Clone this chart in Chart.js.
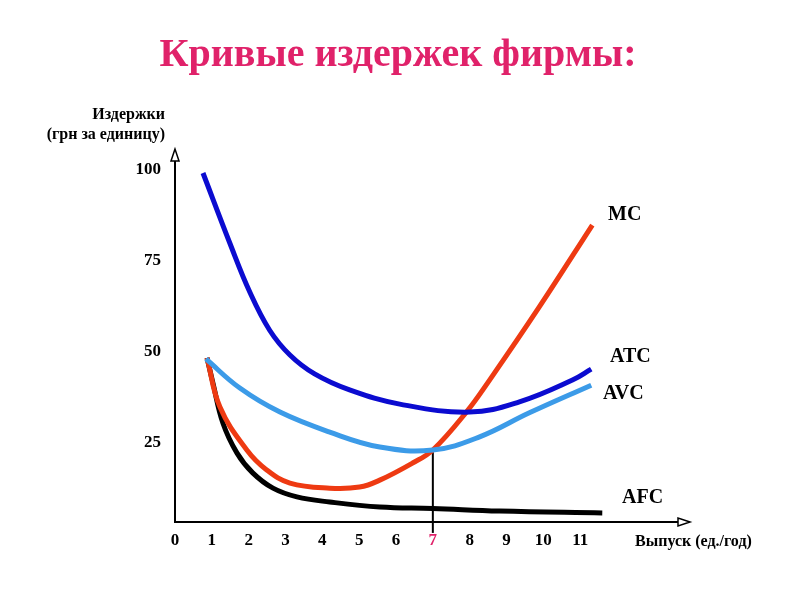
<!DOCTYPE html>
<html>
<head>
<meta charset="utf-8">
<script src="https://cdn.jsdelivr.net/npm/chart.js@4.4.0/dist/chart.umd.min.js"></script>
<style>
    html, body { margin: 0; padding: 0; background: #fff; }
</style>
</head>
<body>
<canvas id="cost-chart" width="800" height="600"></canvas>
<script>
// Data: output on x, cost per unit on y

var xTicks = [0, 1, 2, 3, 4, 5, 6, 7, 8, 9, 10, 11]
var yTicks = [25, 50, 75, 100]

var atcX = [0.76, 1.49, 2.03, 2.57, 3.12, 3.79, 4.74, 6.10, 8.0, 9.35, 10.79, 11.3]
var atcY = [99.2, 79.9, 66.5, 56.0, 49.2, 44.0, 39.6, 35.7, 33.5, 36.3, 42.3, 45.3]

var avcX = [0.84, 1.76, 2.85, 4.2, 5.56, 7.0, 8.27, 9.62, 11.3]
var avcY = [48.1, 40.1, 33.5, 28.0, 23.9, 23.1, 26.7, 33.3, 40.9]

var mcX = [0.87, 1.22, 1.95, 2.49, 3.12, 4.2, 5.01, 5.56, 6.45, 7.0, 7.91, 8.54, 9.89, 11.33]
var mcY = [48.4, 34.9, 23.1, 17.6, 14.0, 12.6, 12.9, 14.8, 19.5, 23.1, 33.5, 42.3, 62.4, 84.9]

var afcX = [0.87, 1.03, 1.3, 1.68, 2.11, 2.66, 3.31, 4.2, 5.56, 7.0, 8.81, 11.6]
var afcY = [48.4, 41.5, 30.5, 22.3, 16.8, 12.6, 10.2, 8.8, 7.4, 7.0, 6.3, 5.8]

// where MC crosses AVC
var dropX = 7
var dropY = 23.1

var pink = '#e0226a'
var serif = "'Liberation Serif', 'Times New Roman', serif"

function toPoints(xs, ys) {
    return xs.map(function (x, i) {
        return { x: x, y: ys[i] }
    })
}

function curve(label, xs, ys, color) {
    return {
        label: label,
        data: toPoints(xs, ys),
        borderColor: color,
        borderWidth: 5,
        pointRadius: 0,
        tension: 0.4,
        borderCapStyle: 'butt',
        fill: false
    }
}

// title, arrows on the axes, curve / axis captions
var extras = {
    id: 'extras',
    afterDraw: function (chart) {
        var c = chart.ctx
        var a = chart.chartArea
        c.save()
        c.fillStyle = pink
        c.textAlign = 'center'
        c.textBaseline = 'alphabetic'
        c.font = 'bold 40px ' + serif
        c.fillText('Кривые издержек фирмы:', 398, 66)

        c.strokeStyle = '#000'
        c.fillStyle = '#fff'
        c.lineWidth = 1.5
        // up arrow
        c.beginPath()
        c.moveTo(a.left, a.top - 4)
        c.lineTo(a.left - 4, a.top + 8)
        c.lineTo(a.left + 4, a.top + 8)
        c.closePath()
        c.fill()
        c.stroke()
        // right arrow
        c.beginPath()
        c.moveTo(a.right + 3, a.bottom)
        c.lineTo(a.right - 9, a.bottom - 4)
        c.lineTo(a.right - 9, a.bottom + 4)
        c.closePath()
        c.fill()
        c.stroke()

        c.fillStyle = '#000'
        c.textBaseline = 'middle'
        c.font = 'bold 16px ' + serif
        c.textAlign = 'right'
        c.fillText('Издержки', 165, 115)
        c.fillText('(грн за единицу)', 165, 135)
        c.textAlign = 'left'
        c.fillText('Выпуск (ед./год)', 635, 542)

        c.font = 'bold 20px ' + serif
        c.fillText('MC', 608, 215)
        c.fillText('ATC', 610, 357)
        c.fillText('AVC', 603, 394)
        c.fillText('AFC', 622, 498)
        c.restore()
    }
}

const ctx = document.getElementById('cost-chart').getContext('2d')
const costChart = new Chart(ctx, {
    type: 'line',
    data: {
        datasets: [
            curve('ATC', atcX, atcY, '#0b0bd0'),
            curve('AVC', avcX, avcY, '#3c9be8'),
            curve('MC', mcX, mcY, '#ee3a12'),
            curve('AFC', afcX, afcY, '#000000'),
            {
                label: 'drop',
                data: [{ x: dropX, y: 0.3 }, { x: dropX, y: dropY }],
                borderColor: '#000',
                borderWidth: 2,
                pointRadius: 0,
                clip: false
            }
        ]
    },
    options: {
        responsive: false,
        animation: false,
        devicePixelRatio: 1,
        layout: {
            padding: { left: 0, top: 153, right: 113, bottom: 0 }
        },
        plugins: {
            legend: { display: false },
            tooltip: { enabled: false },
            title: { display: false }
        },
        scales: {
            x: {
                type: 'linear',
                min: 0,
                max: 13.9,
                afterBuildTicks: function (scale) {
                    scale.ticks = xTicks.map(function (v) { return { value: v } })
                },
                afterFit: function (scale) {
                    scale.height = 78
                },
                grid: { display: false, drawTicks: false },
                border: { display: true, color: '#000', width: 2 },
                ticks: {
                    padding: 8,
                    autoSkip: false,
                    maxRotation: 0,
                    color: function (c) {
                        return c.tick && c.tick.value === dropX ? pink : '#000'
                    },
                    font: { family: serif, size: 17, weight: 'bold' }
                }
            },
            y: {
                type: 'linear',
                min: 3.3,
                max: 104.7,
                afterBuildTicks: function (scale) {
                    scale.ticks = yTicks.map(function (v) { return { value: v } })
                },
                afterFit: function (scale) {
                    scale.width = 175
                },
                grid: { display: false, drawTicks: false },
                border: { display: true, color: '#000', width: 2 },
                ticks: {
                    padding: 14,
                    color: '#000',
                    font: { family: serif, size: 17, weight: 'bold' }
                }
            }
        }
    },
    plugins: [extras]
})
</script>
</body>
</html>
